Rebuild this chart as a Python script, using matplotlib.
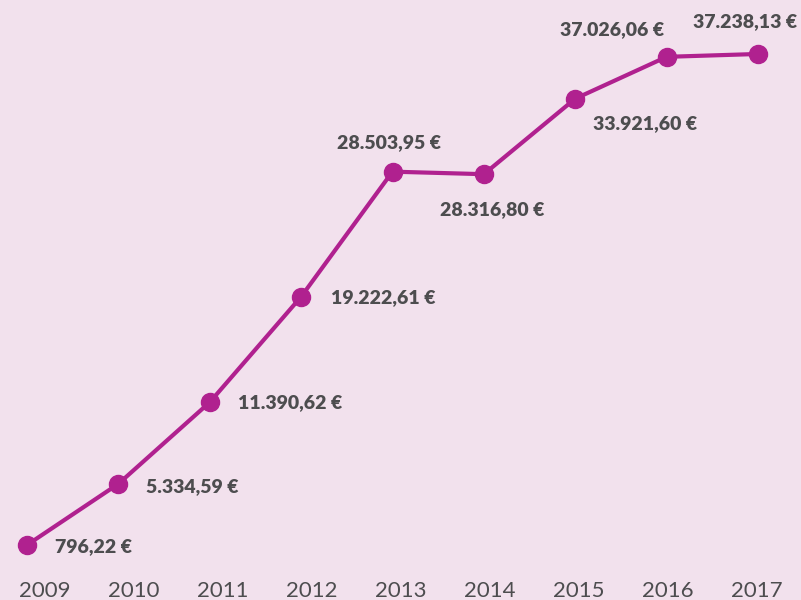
import matplotlib
matplotlib.use("Agg")
import matplotlib.pyplot as plt

years = [2009, 2010, 2011, 2012, 2013, 2014, 2015, 2016, 2017]
values = [796.22, 5334.59, 11390.62, 19222.61, 28503.95, 28316.80, 33921.60, 37026.06, 37238.13]
value_labels = ["796,22 €", "5.334,59 €", "11.390,62 €", "19.222,61 €", "28.503,95 €",
                "28.316,80 €", "33.921,60 €", "37.026,06 €", "37.238,13 €"]

# label placement: (dx px, dy px, ha)
offsets = [(28, -2, "left"), (28, -3, "left"), (28, 0, "left"), (30, -1, "left"),
           (-4, 29, "center"), (8, -35, "center"), (18, -25, "left"),
           (-2, 27, "right"), (39, 32, "right")]

BG = "#f2e1ed"
LINE = "#b0218f"
TEXT = "#4d4d4f"

fig = plt.figure(figsize=(8.01, 6.0), dpi=100, facecolor=BG)
ax = fig.add_axes([0, 0, 1, 1])
ax.set_facecolor(BG)

ax.plot(years, values, color=LINE, lw=3, marker="o", markersize=13,
        solid_capstyle="round", zorder=3)

for x, y, lab, (dx, dy, ha) in zip(years, values, value_labels, offsets):
    ax.annotate(lab, (x, y), xytext=(dx * 0.72, dy * 0.72), textcoords="offset points",
                ha=ha, va="center", fontsize=14, fontweight="heavy",
                color=TEXT, family="Lato")

ax.set_xlim(2008.7045, 2017.4706)
ax.set_ylim(-3286, 41244)
ax.axis("off")

# year labels sit on an evenly spaced category axis across the full width
lab_ax = fig.add_axes([0, 0, 1, 1], frameon=False)
lab_ax.set_xlim(-0.5, len(years) - 0.5)
lab_ax.set_ylim(0, 600)
for i, yr in enumerate(years):
    lab_ax.text(i, 9, str(yr), ha="center", va="center", fontsize=16,
                color=TEXT, family="Lato")
lab_ax.set_xticks([])
lab_ax.set_yticks([])

fig.savefig("out.png", dpi=100, facecolor=BG)
